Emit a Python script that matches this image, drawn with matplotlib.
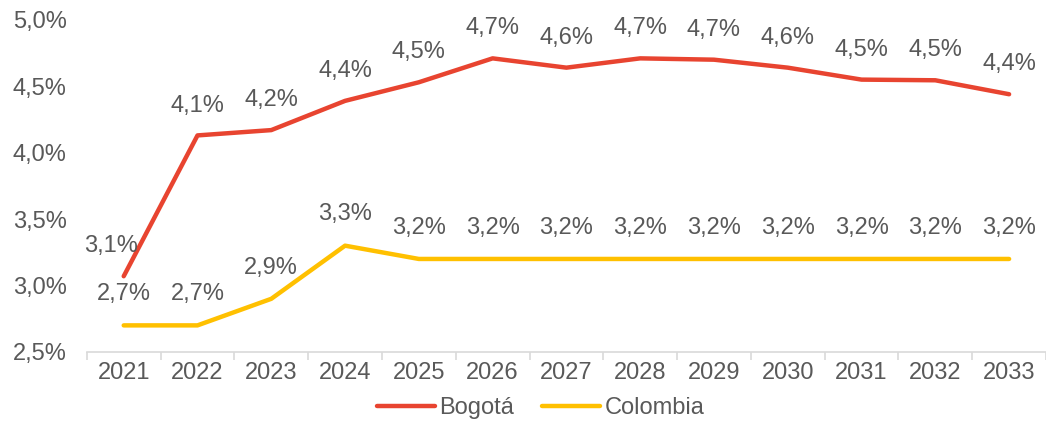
import matplotlib.pyplot as plt
import numpy as np

years = ["2021", "2022", "2023", "2024", "2025", "2026", "2027",
         "2028", "2029", "2030", "2031", "2032", "2033"]
bogota = [3.07, 4.13, 4.17, 4.39, 4.53, 4.71, 4.64, 4.71, 4.70, 4.64, 4.55, 4.545, 4.44]
colombia = [2.7, 2.7, 2.9, 3.3, 3.2, 3.2, 3.2, 3.2, 3.2, 3.2, 3.2, 3.2, 3.2]
yticks = [2.5, 3.0, 3.5, 4.0, 4.5, 5.0]

RED = "#E84430"
YELLOW = "#FFC000"
TXT = "#595959"
GRID = "#D9D9D9"
FS = 17

plt.rcParams['font.family'] = ['Liberation Sans', 'DejaVu Sans']

fig = plt.figure(figsize=(10.46, 4.22), dpi=100)
ax = fig.add_axes([0.083, 0.166, 0.917, 0.787])

x = np.arange(len(years))
ax.plot(x, bogota, color=RED, lw=3.2, solid_capstyle='round', label='Bogotá')
ax.plot(x, colombia, color=YELLOW, lw=3.2, solid_capstyle='round', label='Colombia')

def pct(v):
    return f"{v:.1f}%".replace(".", ",")

# etiquetas de valor sobre cada punto
for i, v in enumerate(bogota):
    dx = -9 if i == 0 else 0
    ax.annotate(pct(v), (x[i], v), xytext=(dx, 21.5), textcoords='offset points',
                ha='center', va='center', fontsize=FS, color=TXT)
for i, v in enumerate(colombia):
    ax.annotate(pct(v), (x[i], v), xytext=(0, 22.5), textcoords='offset points',
                ha='center', va='center', fontsize=FS, color=TXT)

ax.set_xlim(-0.5, len(years) - 0.5)
ax.set_ylim(2.5, 5.0)
ax.set_yticks(yticks)
ax.set_yticklabels([pct(t) for t in yticks], fontsize=FS, color=TXT)
ax.set_xticks(x)
ax.set_xticklabels(years, fontsize=FS, color=TXT)
ax.set_xticks(np.arange(-0.5, len(years), 1), minor=True)
ax.tick_params(axis='x', which='major', length=0, pad=7)
ax.tick_params(axis='x', which='minor', length=6, color=GRID, width=1.2)
ax.tick_params(axis='y', length=0, pad=14.5)

for s in ['top', 'right', 'left']:
    ax.spines[s].set_visible(False)
ax.spines['bottom'].set_color(GRID)
ax.spines['bottom'].set_linewidth(1.2)

leg = fig.legend(loc='center', bbox_to_anchor=(0.517, 0.033), ncol=2, frameon=False,
                 fontsize=FS, handlelength=2.45, columnspacing=1.2, handletextpad=0.18,
                 borderpad=0.0)
for t in leg.get_texts():
    t.set_color(TXT)

fig.savefig("out.png", dpi=100)
